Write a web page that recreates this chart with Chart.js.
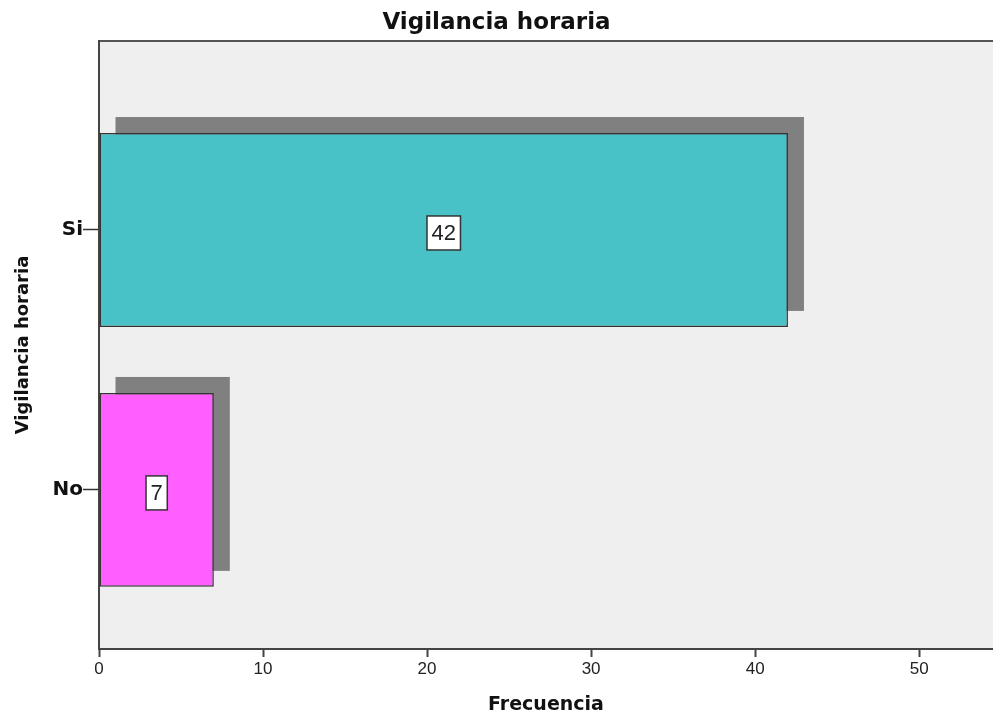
<!DOCTYPE html>
<html lang="es">
<head>
  <meta charset="UTF-8">
  <title>Vigilancia horaria</title>
  <script src="https://cdn.jsdelivr.net/npm/chart.js"></script>
  <style>
    html, body { margin: 0; padding: 0; background: #fff; }
    #wrap { width: 993px; height: 715px; }
  </style>
</head>
<body>
<div id="wrap"><canvas id="chart" width="993" height="715"></canvas></div>

<script>
  // datos
  const categories = ['Si', 'No'];
  const values = [42, 7];
  const barColors = ['#48c2c6', '#ff5fff'];
  const xTicks = [0, 10, 20, 30, 40, 50];

  const X_MAX = 54.5;
  const Y_MIN = 0.273, Y_MAX = 2.612; // posiciones 1 = Si, 2 = No
  const SHADOW = 16;

  const FONT = "'Liberation Sans', Arial, sans-serif";
  const BOLD = "'DejaVu Sans', Verdana, sans-serif";

  // fondo gris del area del grafico + linea superior
  const plotBg = {
    id: 'plotBg',
    beforeDraw(chart) {
      const { ctx, chartArea: a } = chart;
      ctx.save();
      ctx.fillStyle = '#efefef';
      ctx.fillRect(a.left, a.top, a.right - a.left, a.bottom - a.top);
      ctx.strokeStyle = '#555';
      ctx.lineWidth = 2;
      ctx.beginPath();
      ctx.moveTo(a.left, a.top);
      ctx.lineTo(a.right, a.top);
      ctx.stroke();
      ctx.restore();
    }
  };

  // sombra gris desplazada detras de cada barra
  const barShadow = {
    id: 'barShadow',
    beforeDatasetsDraw(chart) {
      const { ctx } = chart;
      const meta = chart.getDatasetMeta(0);
      ctx.save();
      ctx.fillStyle = '#808080';
      meta.data.forEach(bar => {
        const p = bar.getProps(['x', 'y', 'base', 'height'], true);
        ctx.fillRect(p.base + SHADOW, p.y - p.height / 2 - SHADOW, p.x - p.base, p.height);
      });
      ctx.restore();
    }
  };

  // etiqueta con el valor en un recuadro blanco
  const valueBoxes = {
    id: 'valueBoxes',
    afterDatasetsDraw(chart) {
      const { ctx } = chart;
      const meta = chart.getDatasetMeta(0);
      ctx.save();
      ctx.font = '22px ' + FONT;
      ctx.textAlign = 'center';
      ctx.textBaseline = 'middle';
      meta.data.forEach((bar, i) => {
        const p = bar.getProps(['x', 'y', 'base'], true);
        const cx = (p.x + p.base) / 2;
        const cy = p.y + 3;
        const txt = String(values[i]);
        const w = ctx.measureText(txt).width + 9;
        const h = 34;
        ctx.fillStyle = '#fff';
        ctx.fillRect(cx - w / 2, cy - h / 2, w, h);
        ctx.strokeStyle = '#333';
        ctx.lineWidth = 1.5;
        ctx.strokeRect(cx - w / 2, cy - h / 2, w, h);
        ctx.fillStyle = '#222';
        ctx.fillText(txt, cx, cy + 1);
      });
      ctx.restore();
    }
  };

  new Chart(document.getElementById('chart'), {
    type: 'bar',
    data: {
      datasets: [{
        data: categories.map((c, i) => ({ x: values[i], y: i + 1 })),
        backgroundColor: barColors,
        borderColor: '#333',
        borderWidth: 1.5,
        borderSkipped: false,
        barPercentage: 0.746,
        categoryPercentage: 1
      }]
    },
    options: {
      indexAxis: 'y',
      responsive: false,
      animation: false,
      events: [],
      layout: { padding: 0 },
      plugins: {
        legend: { display: false },
        tooltip: { enabled: false },
        title: {
          display: true,
          text: 'Vigilancia horaria',
          color: '#111',
          font: { family: BOLD, size: 23, weight: 'bold', lineHeight: 1.2 },
          padding: { top: 9, bottom: 4.4 }
        }
      },
      scales: {
        x: {
          type: 'linear',
          min: 0,
          max: X_MAX,
          afterBuildTicks: s => { s.ticks = xTicks.map(v => ({ value: v })); },
          afterFit: s => { s.height = 66; },
          border: { display: true, color: '#444', width: 2 },
          grid: { drawOnChartArea: false, drawTicks: true, tickLength: 8, tickColor: '#444', tickWidth: 2 },
          ticks: { color: '#222', font: { family: FONT, size: 17 }, padding: 2 },
          title: {
            display: true,
            text: 'Frecuencia',
            color: '#111',
            font: { family: BOLD, size: 19, weight: 'bold', lineHeight: 1 },
            padding: { top: 0, bottom: 0 }
          }
        },
        y: {
          type: 'linear',
          reverse: true,
          offset: false,
          min: Y_MIN,
          max: Y_MAX,
          afterBuildTicks: s => { s.ticks = categories.map((c, i) => ({ value: i + 1 })); },
          afterFit: s => { s.width = 99; },
          border: { display: true, color: '#444', width: 2 },
          grid: { offset: false, drawOnChartArea: false, drawTicks: true, tickLength: 16, tickColor: '#333', tickWidth: 1.5 },
          ticks: {
            color: '#111',
            font: { family: BOLD, size: 20, weight: 'bold' },
            padding: 0,
            callback: v => categories[v - 1]
          },
          title: {
            display: true,
            text: 'Vigilancia horaria',
            color: '#111',
            font: { family: BOLD, size: 18, weight: 'bold', lineHeight: 1.2 },
            padding: { top: 13, bottom: 0 }
          }
        }
      }
    },
    plugins: [plotBg, barShadow, valueBoxes]
  });
</script>
</body>
</html>
